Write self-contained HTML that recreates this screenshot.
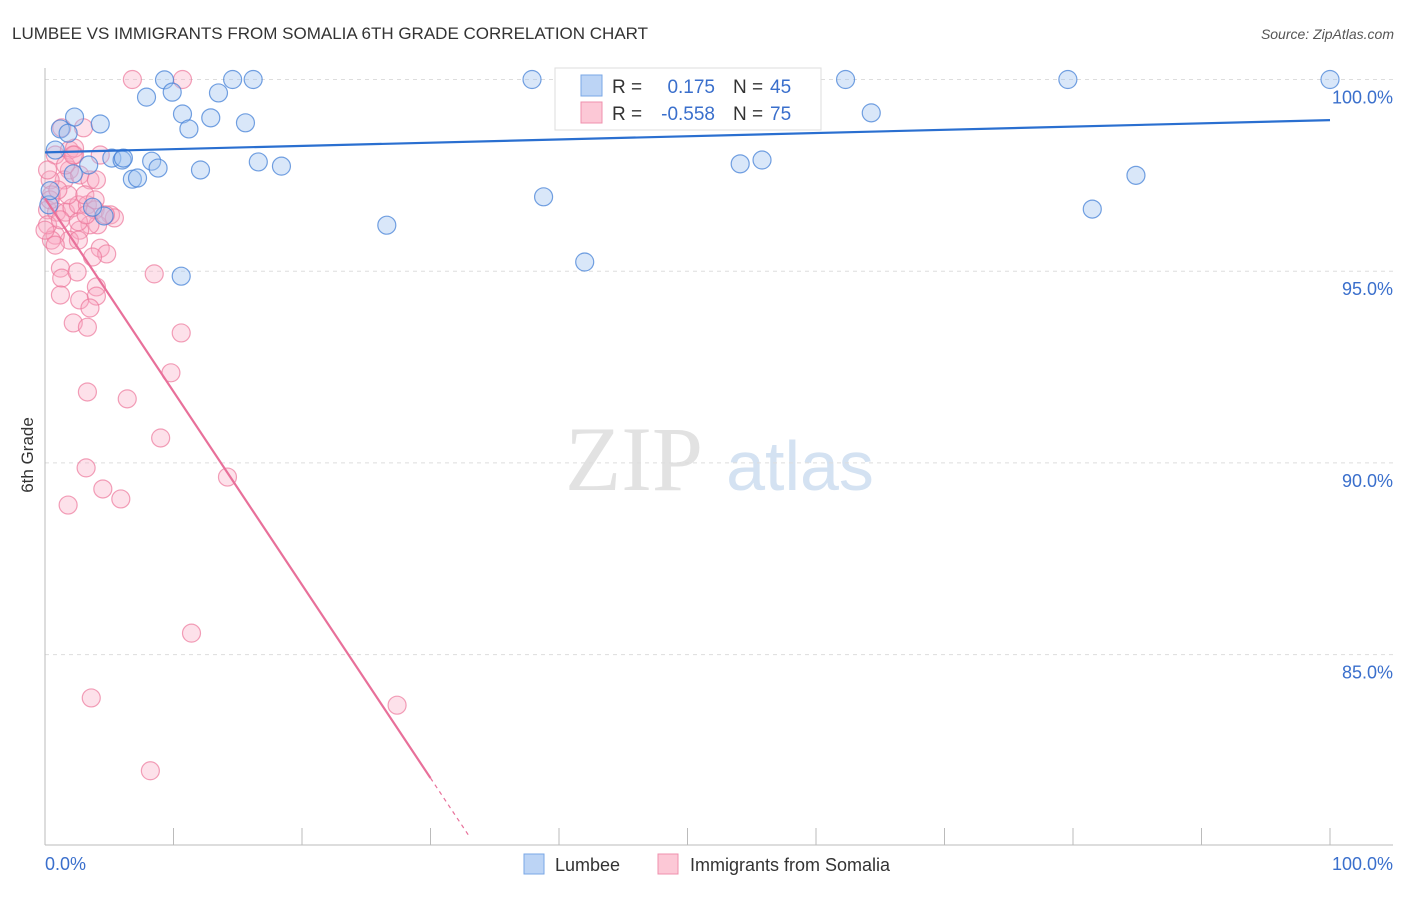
<!DOCTYPE html>
<html><head><meta charset="utf-8"><style>
body{margin:0;background:#fff;font-family:"Liberation Sans",sans-serif}
</style></head><body>
<svg width="1406" height="892" xmlns="http://www.w3.org/2000/svg" id="chart" style="font-family:'Liberation Sans',sans-serif">
<text x="12" y="39" font-size="17" fill="#333">LUMBEE VS IMMIGRANTS FROM SOMALIA 6TH GRADE CORRELATION CHART</text>
<text x="1394" y="39" font-size="14" fill="#555" text-anchor="end" font-style="italic">Source: ZipAtlas.com</text>
<g>
<text x="634" y="490" font-size="92" fill="#e2e2e2" text-anchor="middle" font-family="Liberation Serif,serif">ZIP</text>
<text x="800" y="490" font-size="70" fill="#d4e2f2" text-anchor="middle">atlas</text>
</g>
<g id="grid"></g>
<g id="axes"></g>
<g id="marks"></g>
<text transform="translate(33,455) rotate(-90)" font-size="17" fill="#333" text-anchor="middle">6th Grade</text>
<g>
<rect x="555" y="68" width="266" height="62" fill="#fff" stroke="#ddd"/>
<rect x="581" y="75" width="21" height="21" fill="#bcd4f5" stroke="#7aa7e6"/>
<rect x="581" y="102" width="21" height="21" fill="#fcc8d6" stroke="#ef90ad"/>
<text x="612" y="93" font-size="19" fill="#333">R =</text>
<text x="715" y="93" font-size="19" fill="#3a6fcc" text-anchor="end">0.175</text>
<text x="733" y="93" font-size="19" fill="#333">N =</text>
<text x="770" y="93" font-size="19" fill="#3a6fcc">45</text>
<text x="612" y="120" font-size="19" fill="#333">R =</text>
<text x="715" y="120" font-size="19" fill="#3a6fcc" text-anchor="end">-0.558</text>
<text x="733" y="120" font-size="19" fill="#333">N =</text>
<text x="770" y="120" font-size="19" fill="#3a6fcc">75</text>
</g>
<g>
<rect x="524" y="854" width="20" height="20" fill="#bcd4f5" stroke="#7aa7e6"/>
<text x="555" y="871" font-size="18" fill="#333">Lumbee</text>
<rect x="658" y="854" width="20" height="20" fill="#fcc8d6" stroke="#ef90ad"/>
<text x="690" y="871" font-size="18" fill="#333">Immigrants from Somalia</text>
</g>
</svg>
<script>
const blueX=[0.8,1.2,1.8,2.3,3.4,4.3,4.6,2.2,3.7,5.2,6.0,6.1,6.8,7.2,7.9,8.3,8.8,9.3,9.9,10.6,10.7,11.2,12.1,12.9,13.5,14.6,15.6,16.2,16.6,18.4,26.6,37.9,38.8,42.0,48.5,54.1,55.8,62.3,64.3,79.6,81.5,84.9,100,0.3,0.4];
const blueY=[98.16,98.71,98.6,99.02,97.77,98.84,96.44,97.54,96.67,97.95,97.9,97.95,97.4,97.43,99.54,97.87,97.69,99.99,99.67,94.87,99.1,98.71,97.64,99.0,99.65,100,98.87,100,97.85,97.74,96.2,100,96.94,95.24,100,97.8,97.9,100,99.13,100,96.62,97.5,100,96.73,97.1];
const pinkX=[6.8,10.7,0.8,1.3,1.9,2.3,3.0,2.3,1.9,1.5,2.7,3.5,0.4,0.5,0.2,0.9,1.6,2.1,2.6,3.3,3.9,4.3,4.0,5.1,5.4,4.1,3.5,2.7,1.9,0.8,0.5,2.6,4.3,4.8,3.7,1.2,1.3,2.5,1.2,2.7,4.0,4.0,3.5,2.2,3.3,8.5,10.6,9.8,3.3,6.4,9.0,3.2,14.2,4.5,5.9,1.8,11.4,3.6,27.4,8.2,0.2,0.4,1.2,1.8,3.1,4.7,0,1.0,2.6,1.6,2.2,0.2,0.8,3.2,3.9];
const pinkY=[100,100,98.03,98.74,98.16,98.03,98.74,98.21,97.64,97.38,97.51,97.38,97.38,96.99,96.6,96.54,96.54,96.65,96.73,96.73,96.6,98.03,97.38,96.47,96.39,96.21,96.21,96.07,95.81,95.94,95.81,95.81,95.6,95.45,95.37,95.08,94.82,94.98,94.38,94.25,94.59,94.35,94.04,93.65,93.54,94.93,93.39,92.35,91.85,91.67,90.65,89.87,89.63,89.32,89.06,88.9,85.56,83.87,83.68,81.97,96.21,96.86,96.34,96.99,96.99,96.47,96.07,97.12,96.29,97.77,98.03,97.64,95.68,96.47,96.86];
const yTicks=[100,95,90,85];
const yTickLabels=["100.0%","95.0%","90.0%","85.0%"];
const blueTrend=[98.1,98.94];
const pinkTrend=[96.9,-0.504];
const NS="http://www.w3.org/2000/svg";
const sx=v=>45+v*12.85, sy=v=>79.5+(100-v)*38.34;
function mk(tag,attrs,parent){const e=document.createElementNS(NS,tag);for(const k in attrs)e.setAttribute(k,attrs[k]);document.getElementById(parent).appendChild(e);return e;}
yTicks.forEach((t,i)=>{
 const g=mk('line',{x1:45,x2:1393,y1:sy(t),y2:sy(t),stroke:'#ddd','stroke-dasharray':'4,4'},'grid');
 
 
 const l=mk('text',{x:1393,y:sy(t)+24,'font-size':18,fill:'#3a6fcc','text-anchor':'end'},'grid');
 l.textContent=yTickLabels[i];
 
 
});
let a=mk('line',{x1:45,x2:45,y1:68,y2:845,stroke:'#bbb'},'axes');


a=mk('line',{x1:45,x2:1393,y1:845,y2:845,stroke:'#bbb'},'axes');


for(let i=0;i<=10;i++){const t=mk('line',{x1:sx(i*10),x2:sx(i*10),y1:828,y2:845,stroke:'#bbb'},'axes');
 
 }
let xl=mk('text',{x:45,y:870,'font-size':18,fill:'#3a6fcc'},'axes');xl.textContent='0.0%';


xl=mk('text',{x:1393,y:870,'font-size':18,fill:'#3a6fcc','text-anchor':'end'},'axes');xl.textContent='100.0%';


pinkX.forEach((x,i)=>{const c=mk('circle',{cx:sx(x),cy:sy(pinkY[i]),r:9,fill:'rgba(248,170,195,0.35)',stroke:'rgba(236,120,155,0.7)','stroke-width':1.2},'marks');
 
 });
blueX.forEach((x,i)=>{const c=mk('circle',{cx:sx(x),cy:sy(blueY[i]),r:9,fill:'rgba(160,195,240,0.4)',stroke:'rgba(70,130,215,0.75)','stroke-width':1.2},'marks');
 
 });
let tl=mk('line',{x1:sx(0),y1:sy(blueTrend[0]),x2:sx(100),y2:sy(blueTrend[1]),stroke:'#2a6fd0','stroke-width':2.2},'marks');


const pe=30, pd=33.1;
tl=mk('line',{x1:sx(0),y1:sy(pinkTrend[0]),x2:sx(pe),y2:sy(pinkTrend[0]+pinkTrend[1]*pe),stroke:'#e8709a','stroke-width':2.2},'marks');


tl=mk('line',{x1:sx(pe),y1:sy(pinkTrend[0]+pinkTrend[1]*pe),x2:sx(pd),y2:sy(pinkTrend[0]+pinkTrend[1]*pd),stroke:'#e8709a','stroke-width':1.2,'stroke-dasharray':'4,4'},'marks');


</script>
</body></html>
